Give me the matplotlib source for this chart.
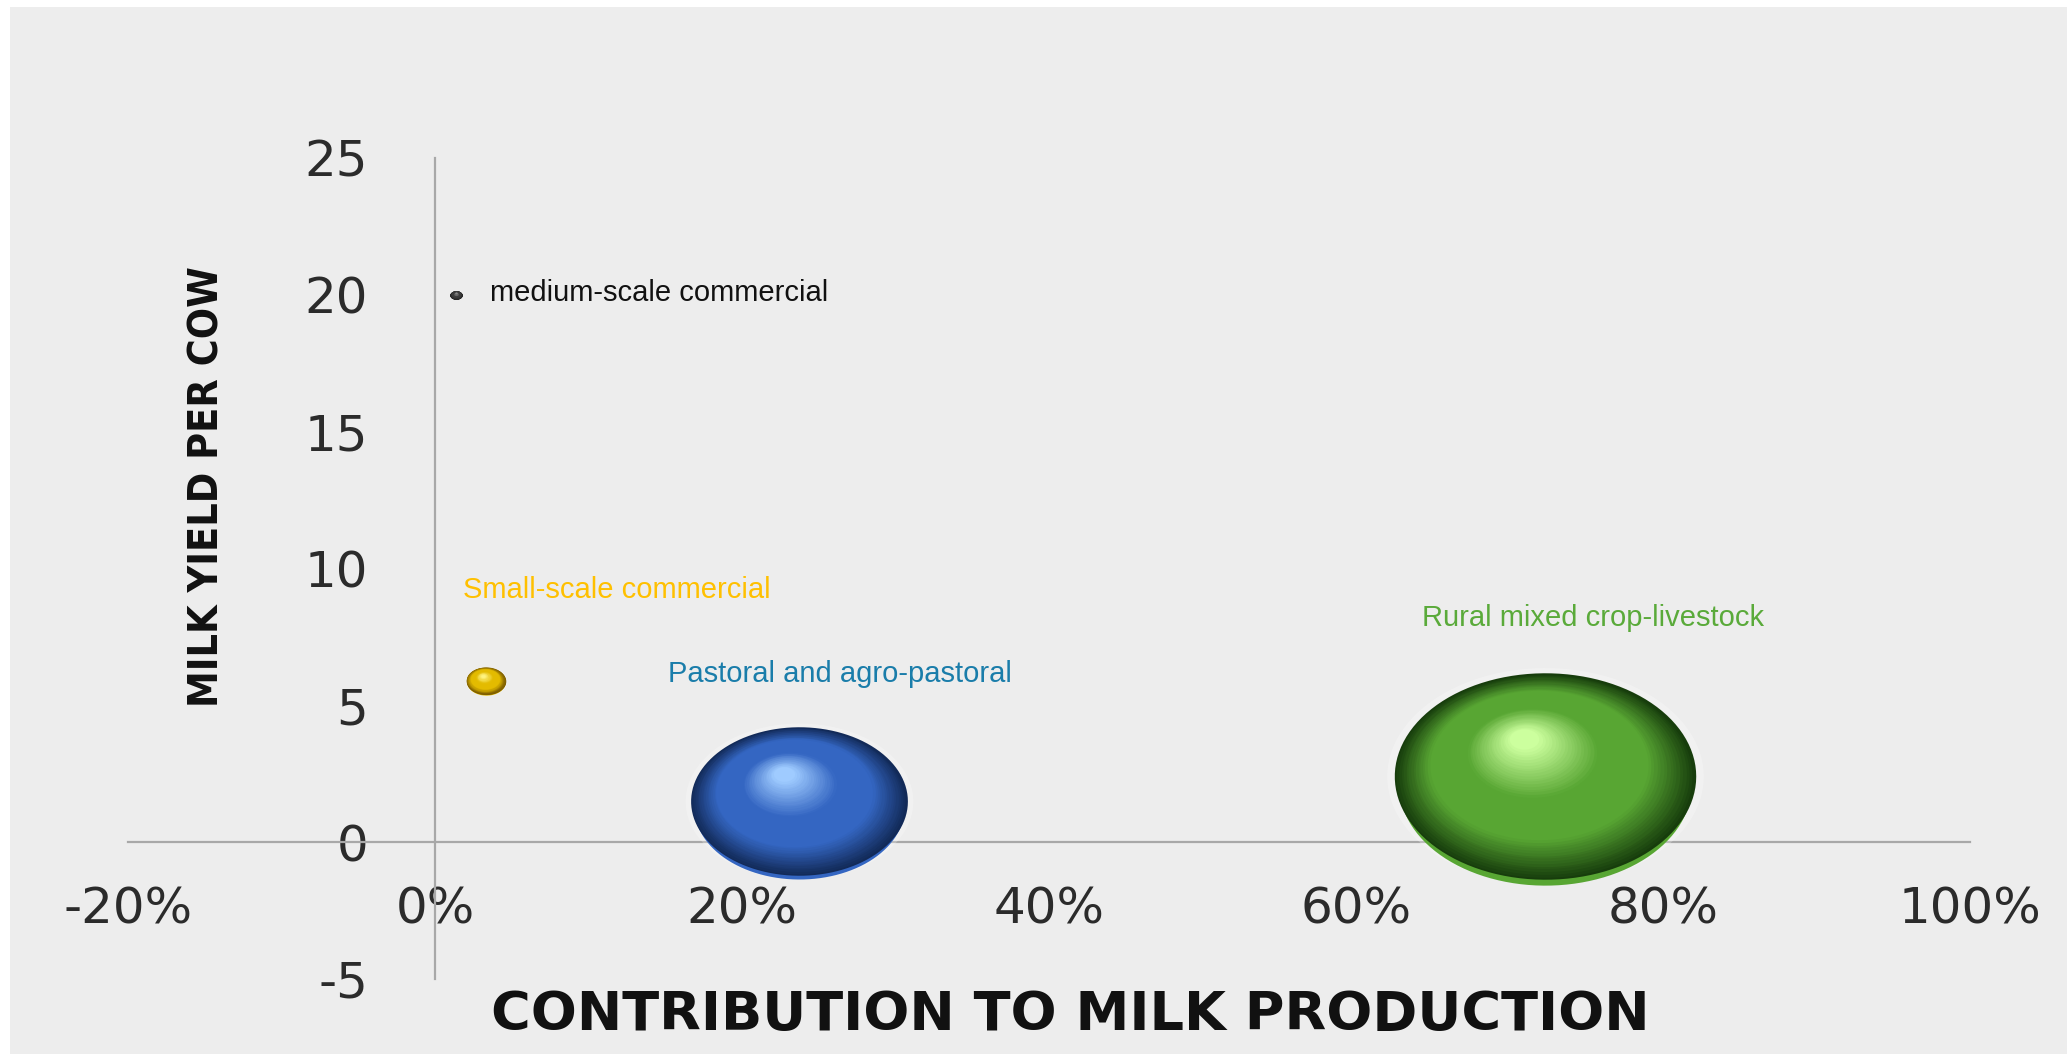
import numpy as np
import matplotlib
matplotlib.use("Agg")
import matplotlib.pyplot as plt
from matplotlib import font_manager
from matplotlib.colors import LinearSegmentedColormap
from matplotlib.patches import Rectangle
from matplotlib.path import Path
from matplotlib.ticker import FuncFormatter
from matplotlib.transforms import ScaledTranslation

plt.rcParams['axes.unicode_minus'] = False

# --- data ---
systems = ["medium-scale commercial", "Small-scale commercial",
           "Pastoral and agro-pastoral", "Rural mixed crop-livestock"]
contribution = [1.4, 3.3, 23.7, 72.3]      # % of milk production
milk_yield = [20.0, 5.9, 1.5, 2.4]         # milk yield per cow
bubble_size = [0.1, 1.0, 30.0, 58.0]       # relative bubble area

x_ticks = [-20, 0, 20, 40, 60, 80, 100]
y_ticks = [-5, 0, 5, 10, 15, 20, 25]

# colours: (edge, body, highlight) and label colour
shades = [('#1e1e1e', '#3c3c3c', '#8a8a8a'),
          ('#7a5a00', '#e3bb00', '#fff37e'),
          ('#122a58', '#3466c2', '#9fcbff'),
          ('#173d0c', '#58a633', '#ccff9e')]
label_colors = ['#111111', '#FFC000', '#1A7DAA', '#5AAA3A']
label_xy = [(3.6, 20.05), (1.8, 9.2), (15.2, 6.15), (64.3, 8.2)]

ASPECT = 1.46   # bubbles are wider than tall
K_PT = 28.5     # points of width per sqrt(size)

# look for a condensed bold face for the vertical title
cond = None
for f in font_manager.fontManager.ttflist:
    nm = f.name.lower()
    is_cond = ('condensed' in nm or 'narrow' in nm or
               str(f.stretch) in ('condensed', 'semi-condensed', 'extra-condensed', '75', '87'))
    if is_cond and f.fname.lower().endswith(('.ttf', '.otf')):
        w = f.weight if isinstance(f.weight, int) else (700 if 'bold' in str(f.weight) else 400)
        if cond is None or abs(w - 700) < abs(cond[1] - 700):
            cond = (f.fname, w)
if cond is not None:
    ytitle_prop = font_manager.FontProperties(fname=cond[0], size=29.5)
else:
    ytitle_prop = font_manager.FontProperties(family='DejaVu Sans', weight='bold', size=25)

fig = plt.figure(figsize=(20.67, 10.54), dpi=100)
fig.patch.set_facecolor('white')
fig.patches.append(Rectangle((0.005, 0), 0.995, 0.993, transform=fig.transFigure,
                             facecolor='#ededed', edgecolor='none', zorder=-10))

ax = fig.add_axes([0.0619, 0.0712, 0.8912, 0.7789])
ax.set_facecolor('none')
ax.set_xlim(-20, 100)
ax.set_ylim(-5, 25)

t = np.linspace(0, 2 * np.pi, 120)
ellipse = Path(np.column_stack([np.cos(t), np.sin(t) / ASPECT]), closed=True)


def shifted(dx, dy):
    return ax.transData + ScaledTranslation(dx / 72, dy / 72, fig.dpi_scale_trans)


def draw_bubble(x, y, size, edge, body, light, z, n=50):
    w = K_PT * np.sqrt(size)
    h = w / ASPECT
    cmap = LinearSegmentedColormap.from_list(
        'b', [(0, edge), (0.3, body), (0.62, body), (1, light)])
    hx, hy = -0.075 * w, 0.2 * h
    # faint glow
    ax.scatter([x], [y], s=(w * 1.05) ** 2, marker=ellipse, color='white',
               alpha=0.25, linewidths=0, zorder=z)
    # lighter reflection peeking out at the bottom
    ax.scatter([x], [y], s=(0.97 * w) ** 2, marker=ellipse, color=cmap(0.5),
               linewidths=0, transform=shifted(0, -0.04 * h), zorder=z + 0.001)
    for i in range(n):
        f = 1.0 - 0.92 * i / n
        tr = shifted((1 - f) * hx, (1 - f) * hy)
        ax.scatter([x], [y], s=(f * w) ** 2, marker=ellipse, color=cmap(i / (n - 1)),
                   linewidths=0, transform=tr, zorder=z + 0.002 + i * 0.001)


for i in range(len(systems)):
    e, b, l = shades[i]
    draw_bubble(contribution[i], milk_yield[i], bubble_size[i], e, b, l, z=3 + i)
    lx, ly = label_xy[i]
    ax.text(lx, ly, systems[i], color=label_colors[i], fontsize=21,
            family='Liberation Sans', ha='left', va='center', zorder=10)

# axes crossing at zero
for side in ['top', 'right']:
    ax.spines[side].set_visible(False)
ax.spines['left'].set_position(('data', 0))
ax.spines['bottom'].set_position(('data', 0))
for side in ['left', 'bottom']:
    ax.spines[side].set_color('#a8a8a8')
    ax.spines[side].set_linewidth(1.6)
    ax.spines[side].set_zorder(2)

ax.set_xticks(x_ticks)
ax.set_yticks(y_ticks)
ax.xaxis.set_major_formatter(FuncFormatter(lambda v, p: f'{v:.0f}%'))
ax.yaxis.set_major_formatter(FuncFormatter(lambda v, p: f'{v:.0f}'))
ax.tick_params(axis='x', length=0, pad=31, labelsize=36, labelcolor='#2b2b2b')
ax.tick_params(axis='y', length=0, pad=48, labelsize=36, labelcolor='#2b2b2b')

fig.text(0.1005, 0.538, 'MILK YIELD PER COW', rotation=90, ha='center', va='center',
         fontproperties=ytitle_prop, color='#111111')
fig.text(0.5177, 0.037, 'CONTRIBUTION TO MILK PRODUCTION', ha='center', va='center',
         fontsize=39, family='DejaVu Sans', weight='bold', color='#111111')

fig.savefig('out.png', dpi=100, facecolor=fig.get_facecolor())
